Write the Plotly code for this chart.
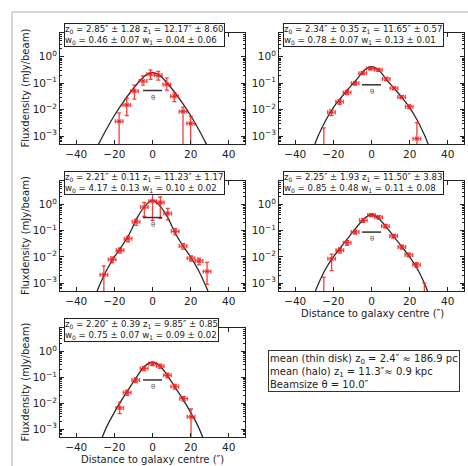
import math
import plotly.graph_objects as go

# ---------------------------------------------------------------------------
# Fit parameters of the two-component (thin disk + halo) vertical profiles
# ---------------------------------------------------------------------------
z0 = [2.85, 2.34, 2.21, 2.25, 2.20]
z0_err = [1.28, 0.35, 0.11, 1.93, 0.39]
z1 = [12.17, 11.65, 11.23, 11.50, 9.85]
z1_err = [8.60, 0.57, 1.17, 3.83, 0.85]
w0 = [0.46, 0.78, 4.17, 0.85, 0.75]
w0_err = [0.07, 0.07, 0.13, 0.48, 0.07]
w1 = [0.04, 0.13, 0.10, 0.11, 0.09]
w1_err = [0.06, 0.01, 0.02, 0.08, 0.02]

beam_size = 10.0          # arcsec
mean_z0_pc = 186.9
mean_z1_kpc = 0.9

# Level at which the beam bar is drawn in each panel (mJy/beam)
beam_level = [0.053, 0.087, 0.32, 0.089, 0.079]

# ---------------------------------------------------------------------------
# Measured strip profiles: distance (arcsec), flux density and its errors
# ---------------------------------------------------------------------------
x_err = 2.0

dist_1 = [-17.5, -13.5, -9.5, -5.0, -1.0, 3.0, 7.5, 11.5, 16.0, 20.0]
flux_1 = [3.6e-3, 0.015, 0.05, 0.12, 0.22, 0.20, 0.09, 0.032, 8.5e-3, 3.0e-3]
up_1 = [4.0e-3, 0.012, 0.035, 0.07, 0.10, 0.08, 0.07, 0.011, 4.0e-3, 2.6e-3]
dn_1 = [3.55e-3, 9.0e-3, 0.025, 0.035, 0.08, 0.07, 0.035, 0.012, 8.4e-3, 2.97e-3]

dist_2 = [-25.0, -21.0, -16.7, -12.8, -8.6, -4.6, -0.6, 3.6, 7.7, 11.8, 15.8, 19.8, 23.8]
flux_2 = [3.0e-4, 8.0e-3, 0.020, 0.045, 0.10, 0.24, 0.36, 0.32, 0.145, 0.065, 0.030, 0.013, 8.0e-4]
up_2 = [1.74e-3, 2.0e-3, 4.0e-3, 8.0e-3, 0.015, 0.03, 0.04, 0.04, 0.02, 8.0e-3, 4.0e-3, 2.0e-3, 2.4e-3]
dn_2 = [2.9e-4, 2.0e-3, 4.0e-3, 8.0e-3, 0.015, 0.03, 0.04, 0.04, 0.02, 8.0e-3, 4.0e-3, 2.0e-3, 7.9e-4]

dist_3 = [-25.5, -21.2, -17.0, -12.8, -8.6, -4.3, 0.0, 4.1, 8.0, 11.9, 16.0, 20.2, 24.4, 28.6]
flux_3 = [2.1e-3, 8.0e-3, 0.018, 0.05, 0.22, 0.80, 1.35, 1.20, 0.46, 0.095, 0.026, 9.0e-3, 7.0e-3, 2.8e-3]
up_3 = [2.5e-3, 2.0e-3, 4.0e-3, 0.012, 0.06, 0.40, 1.20, 0.75, 0.25, 0.025, 6.0e-3, 2.0e-3, 2.0e-3, 3.4e-3]
dn_3 = [2.09e-3, 2.0e-3, 4.0e-3, 0.012, 0.06, 0.45, 1.10, 0.90, 0.20, 0.025, 6.0e-3, 2.0e-3, 2.0e-3, 1.9e-3]

dist_4 = [-25.0, -20.9, -16.6, -12.8, -8.6, -4.3, 0.0, 3.7, 7.3, 11.6, 15.9, 19.6, 23.6, 27.7]
flux_4 = [4.0e-4, 8.5e-3, 0.018, 0.035, 0.09, 0.25, 0.40, 0.33, 0.15, 0.063, 0.024, 0.012, 5.0e-3, 3.0e-4]
up_4 = [1.3e-3, 4.4e-3, 4.0e-3, 7.0e-3, 0.015, 0.04, 0.05, 0.05, 0.025, 0.01, 4.0e-3, 2.0e-3, 1.0e-3, 7.0e-4]
dn_4 = [3.9e-4, 5.5e-3, 4.0e-3, 7.0e-3, 0.015, 0.04, 0.05, 0.05, 0.025, 0.01, 4.0e-3, 2.0e-3, 1.0e-3, 2.9e-4]

dist_5 = [-17.2, -13.3, -8.8, -4.4, 0.0, 4.0, 7.8, 11.7, 16.3, 20.2]
flux_5 = [6.6e-3, 0.026, 0.078, 0.22, 0.33, 0.27, 0.12, 0.044, 0.015, 3.0e-3]
up_5 = [4.5e-3, 6.0e-3, 0.016, 0.04, 0.05, 0.05, 0.025, 9.0e-3, 3.0e-3, 3.0e-3]
dn_5 = [2.6e-3, 6.0e-3, 0.016, 0.04, 0.05, 0.05, 0.025, 9.0e-3, 3.0e-3, 2.97e-3]

# ---------------------------------------------------------------------------
# Fitted model profiles (beam-convolved), sampled along the strip
# ---------------------------------------------------------------------------
model_dist = [-31, -28, -24, -20, -16, -12, -8, -4, 0, 4, 8, 12, 16, 20, 24, 28, 31]
model_1 = [1.8e-4, 5.4e-4, 1.9e-3, 6.0e-3, 0.0166, 0.0417, 0.0955, 0.19, 0.25,
           0.19, 0.0955, 0.0417, 0.0166, 6.0e-3, 1.9e-3, 5.4e-4, 1.8e-4]
model_2 = [2.8e-4, 1.0e-3, 3.98e-3, 0.012, 0.0282, 0.063, 0.132, 0.302, 0.427,
           0.302, 0.132, 0.063, 0.0282, 0.012, 3.98e-3, 1.0e-3, 2.8e-4]
model_3 = [2.2e-4, 7.6e-4, 3.16e-3, 0.010, 0.0263, 0.079, 0.316, 0.87, 1.48,
           0.87, 0.316, 0.079, 0.0263, 0.010, 3.16e-3, 7.6e-4, 2.2e-4]
model_4 = [2.5e-4, 8.9e-4, 3.55e-3, 0.010, 0.024, 0.0562, 0.132, 0.282, 0.417,
           0.282, 0.132, 0.0562, 0.024, 0.010, 3.55e-3, 8.9e-4, 2.5e-4]
model_5 = [8.0e-5, 2.5e-4, 1.26e-3, 4.47e-3, 0.0141, 0.0398, 0.112, 0.275, 0.38,
           0.275, 0.112, 0.0398, 0.0141, 4.47e-3, 1.26e-3, 2.5e-4, 8.0e-5]

x_ticks = [-40, -20, 0, 20, 40]
y_ticks = [1e-3, 1e-2, 1e-1, 1.0]
y_ticktext = ["10<sup>−3</sup>", "10<sup>−2</sup>", "10<sup>−1</sup>", "10<sup>0</sup>"]

x_title = "Distance to galaxy centre (″)"
y_title = "Fluxdensity (mJy/beam)"

# ---------------------------------------------------------------------------
# Figure layout
# ---------------------------------------------------------------------------
W, H = 468, 466
FONT = "DejaVu Sans"
INK = "#222222"
RED = "rgba(240,30,30,0.85)"


def px(x):
    return x / W


def py(y):
    return 1 - y / H


# plot boxes in pixel coordinates: (left, right, top, bottom)
boxes = [
    (60, 245, 33, 144),
    (279, 464, 33, 144),
    (60, 245, 181, 291),
    (279, 464, 181, 291),
    (60, 245, 328, 437),
]

dists = [dist_1, dist_2, dist_3, dist_4, dist_5]
fluxes = [flux_1, flux_2, flux_3, flux_4, flux_5]
ups = [up_1, up_2, up_3, up_4, up_5]
dns = [dn_1, dn_2, dn_3, dn_4, dn_5]
models = [model_1, model_2, model_3, model_4, model_5]

minor_vals = [m * 10.0 ** k for k in range(-4, 1) for m in range(2, 10)]

fig = go.Figure()
layout = dict(
    width=W, height=H,
    margin=dict(l=0, r=0, t=0, b=0),
    paper_bgcolor="white", plot_bgcolor="white",
    showlegend=False,
    font=dict(family=FONT, size=10.5, color=INK),
)
annotations = []
shapes = []

for i in range(5):
    n = i + 1
    xa = "x" if n == 1 else f"x{n}"
    ya = "y" if n == 1 else f"y{n}"
    left, right, top, bottom = boxes[i]

    layout["xaxis" if n == 1 else f"xaxis{n}"] = dict(
        domain=[px(left), px(right)], anchor=ya,
        range=[-48.5, 48.5], tickvals=x_ticks,
        ticks="inside", ticklen=4, tickwidth=1, tickcolor=INK,
        showline=True, linecolor=INK, linewidth=1, mirror="ticks",
        showgrid=False, zeroline=False,
        tickfont=dict(size=10.5, color=INK),
    )
    layout["yaxis" if n == 1 else f"yaxis{n}"] = dict(
        domain=[py(bottom), py(top)], anchor=xa,
        type="log", range=[-3.3, 0.9],
        tickvals=y_ticks, ticktext=y_ticktext,
        ticks="inside", ticklen=4, tickwidth=1, tickcolor=INK,
        minor=dict(ticks="inside", ticklen=2, tickwidth=0.8, tickcolor=INK,
                   tickvals=minor_vals, showgrid=False),
        showline=True, linecolor=INK, linewidth=1, mirror="ticks",
        showgrid=False, zeroline=False,
        tickfont=dict(size=10.5, color=INK),
    )

    # fitted model
    fig.add_trace(go.Scatter(
        x=model_dist, y=models[i], mode="lines", xaxis=xa, yaxis=ya,
        line=dict(color="#2a2a2a", width=1.3, shape="spline", smoothing=0.8),
        hoverinfo="skip",
    ))

    # measured points with error bars
    fig.add_trace(go.Scatter(
        x=dists[i], y=fluxes[i], mode="markers", xaxis=xa, yaxis=ya,
        marker=dict(symbol="x-thin", size=4, color=RED,
                    line=dict(color=RED, width=1.2)),
        error_x=dict(type="constant", value=x_err, color=RED,
                     thickness=1.3, width=2),
        error_y=dict(type="data", array=ups[i], arrayminus=dns[i],
                     symmetric=False, color=RED, thickness=1.3, width=2),
    ))

    # beam bar with its label
    fig.add_trace(go.Scatter(
        x=[-beam_size / 2, beam_size / 2], y=[beam_level[i], beam_level[i]],
        mode="lines", xaxis=xa, yaxis=ya,
        line=dict(color="#333333", width=1.5), hoverinfo="skip",
    ))
    annotations.append(dict(
        x=0, y=math.log10(beam_level[i]), xref=xa, yref=ya,
        text="θ", showarrow=False, xanchor="center", yanchor="top", yshift=-1,
        font=dict(family=FONT, size=7, color="#555555"),
    ))

    # fit-parameter box straddling the top of the frame
    txt = (f"z<sub>0</sub> = {z0[i]:.2f}″ ± {z0_err[i]:.2f} "
           f"z<sub>1</sub> = {z1[i]:.2f}″ ± {z1_err[i]:.2f}<br>"
           f"w<sub>0</sub> = {w0[i]:.2f} ± {w0_err[i]:.2f} "
           f"w<sub>1</sub> = {w1[i]:.2f} ± {w1_err[i]:.2f}")
    annotations.append(dict(
        x=px(left + 4), y=py(top - 10), xref="paper", yref="paper",
        xanchor="left", yanchor="top", text=txt, align="left",
        showarrow=False, bgcolor="white", bordercolor="#222222",
        borderwidth=1, borderpad=0,
        font=dict(family=FONT, size=8.6, color=INK),
    ))

    # y-axis title for the left column
    if left == 60:
        annotations.append(dict(
            x=px(25), y=py((top + bottom) / 2), xref="paper", yref="paper",
            xanchor="center", yanchor="middle",
            text=y_title, textangle=-90, showarrow=False,
            font=dict(family=FONT, size=10, color=INK),
        ))

# x-axis titles under the lowest panel of each column
for cx, cy in [(372, 313), (152, 459)]:
    annotations.append(dict(
        x=px(cx), y=py(cy), xref="paper", yref="paper", text=x_title,
        xanchor="center", yanchor="middle",
        showarrow=False, font=dict(family=FONT, size=10, color=INK),
    ))

# summary box
mean_z0 = sum(z0) / len(z0)
mean_z1 = sum(z1) / len(z1)
summary = (f"mean (thin disk) z<sub>0</sub> = {mean_z0:.1f}″ ≈ {mean_z0_pc:.1f} pc<br>"
           f"mean (halo) z<sub>1</sub> = {mean_z1:.1f}″≈ {mean_z1_kpc:.1f} kpc<br>"
           f"Beamsize θ = {beam_size:.1f}″")
annotations.append(dict(
    x=px(268), y=py(350), xref="paper", yref="paper",
    xanchor="left", yanchor="top", text=summary, align="left",
    width=188, height=38, valign="middle",
    showarrow=False, bgcolor="white", bordercolor="#333333",
    borderwidth=1, borderpad=1,
    font=dict(family=FONT, size=10, color=INK),
))

# light page frame
shapes.append(dict(type="line", xref="paper", yref="paper",
                   x0=px(12), x1=1, y0=py(12), y1=py(12),
                   line=dict(color="#d4d4d4", width=2)))
shapes.append(dict(type="line", xref="paper", yref="paper",
                   x0=px(12), x1=px(12), y0=py(12), y1=0,
                   line=dict(color="#d4d4d4", width=2)))

layout["annotations"] = annotations
layout["shapes"] = shapes
fig.update_layout(**layout)

fig.write_html("out.html")
